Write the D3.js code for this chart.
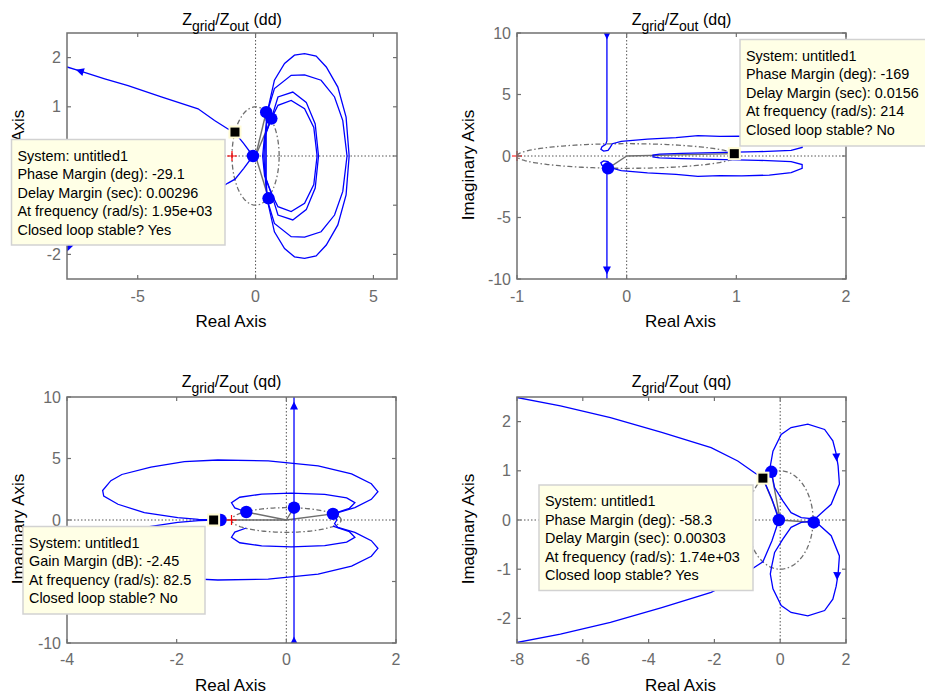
<!DOCTYPE html>
<html>
<head>
<meta charset="utf-8">
<script src="https://cdn.jsdelivr.net/npm/d3@7"></script>
<style>
  body { margin: 0; background: #fff; }
  svg { display: block; }
  text { font-family: "Liberation Sans", Arial, Helvetica, sans-serif; }
</style>
</head>
<body>
<svg id="fig" width="925" height="698"></svg>
<script>
// Nyquist diagrams of Zgrid/Zout, one panel per dq channel.
// Curves hold the positive-frequency half [re, im]; the conjugate half is drawn mirrored.

// ---------- (dd) ----------
const ddXDomain = [-8, 6];
const ddYDomain = [-2.5, 2.5];
const ddXTicks = [-5, 0, 5];
const ddYTicks = [-2, -1, 0, 1, 2];
const ddBranch = [[-8.4,1.86],[-8,1.81],[-7.46,1.73],[-6.4,1.57],[-5.41,1.43],[-4.0,1.2],[-2.44,0.96],[-1.74,0.72],[-1.17,0.55],[-0.87,0.47],[-0.5,0.25],[-0.11,0]];
const ddLoop1 = [[0.45,0],[0.45,0.5],[0.5,0.9],[0.8,1.54],[1.23,1.88],[1.65,2.05],[2.08,2.08],[2.57,2.03],[3.0,1.81],[3.49,1.4],[3.84,0.79],[3.97,0]];
const ddLoop2 = [[0.4,0],[0.42,0.5],[0.5,0.9],[0.8,1.37],[1.51,1.64],[2.08,1.65],[2.78,1.54],[3.35,1.2],[3.7,0.72],[3.88,0]];
const ddLoop3 = [[0.35,0],[0.4,0.4],[0.67,0.76],[0.95,1.2],[1.58,1.3],[2.15,1.09],[2.53,0.65],[2.67,0]];
const ddLoop4 = [[0.3,0],[0.38,0.4],[0.67,0.76],[0.95,1.03],[1.51,1.13],[2.08,0.96],[2.47,0.58],[2.61,0]];
const ddArrows = [[-7.46,1.73,-8,1.81],[-7.88,-1.84,-7.3,-1.75]];
const ddDots = [[0.45,0.89],[0.67,0.76],[-0.11,0],[0.55,-0.86]];
const ddPhaseMargin = -29.1;
const ddDelayMargin = "0.00296";
const ddFrequency = "1.95e+03";
const ddStable = "Yes";

// ---------- (dq) ----------
const dqXDomain = [-1, 2];
const dqYDomain = [-10, 10];
const dqXTicks = [-1, 0, 1, 2];
const dqYTicks = [-10, -5, 0, 5, 10];
const dqPath = [[-0.18,11],[-0.18,1.25],[-0.19,0.95],[-0.225,0.75],[-0.235,0.55],[-0.21,0.4],[-0.17,0.45],[-0.15,0.7],[-0.13,1.0],[-0.05,1.19],[0.19,1.38],[0.45,1.5],[0.65,1.65],[0.85,1.6],[1.05,1.62],[1.3,1.55],[1.5,1.35],[1.6,1.0],[1.6,0.7],[1.5,0.45],[1.2,0.35],[0.8,0.28],[0.5,0.22],[0.3,0.16],[0.24,0.08],[0.24,0]];
const dqArrows = [[-0.18,9.8,-0.18,9.0],[-0.18,-9.3,-0.18,-10]];
const dqDots = [[-0.17,-1.0]];
const dqPhaseMargin = -169;
const dqDelayMargin = "0.0156";
const dqFrequency = "214";
const dqStable = "No";

// ---------- (qd) ----------
const qdXDomain = [-4, 2];
const qdYDomain = [-10, 10];
const qdXTicks = [-4, -2, 0, 2];
const qdYTicks = [-10, -5, 0, 5, 10];
const qdVertical = [[0.14,11],[0.14,0]];
const qdOuter = [[-1.1,0],[-1.3,0.01],[-1.6,0.05],[-1.98,0.2],[-2.59,0.6],[-3.07,1.28],[-3.33,1.95],[-3.35,2.4],[-3.2,3.2],[-3.0,3.7],[-2.47,4.3],[-1.86,4.75],[-1.25,4.88],[-0.33,4.8],[0.58,4.4],[1.19,3.75],[1.55,2.95],[1.67,2.3],[1.55,1.68],[1.25,1.0],[0.94,0.6],[0.88,0.3],[0.92,0]];
const qdInner = [[-0.73,0.65],[-0.94,0.98],[-1.0,1.4],[-0.85,1.85],[-0.45,2.1],[0.09,2.18],[0.7,2.09],[1.1,1.8],[1.25,1.41],[1.15,0.95],[0.85,0.5]];
const qdArrows = [[0.14,9.3,0.14,10],[0.14,-9.8,0.14,-9.0]];
const qdDots = [[-1.2,0],[-0.73,0.65],[0.14,1.0],[0.85,0.5]];
const qdGainMargin = -2.45;
const qdFrequency = "82.5";
const qdStable = "No";

// ---------- (qq) ----------
const qqXDomain = [-8, 2];
const qqYDomain = [-2.5, 2.5];
const qqXTicks = [-8, -6, -4, -2, 0, 2];
const qqYTicks = [-2, -1, 0, 1, 2];
const qqBranch = [[-8.5,2.55],[-8,2.49],[-6.68,2.32],[-5.16,2.08],[-3.6,1.78],[-2.1,1.47],[-1.29,1.2],[-0.78,0.96],[-0.525,0.85],[-0.25,0.42],[-0.04,0]];
const qqLoop = [[1.02,0],[1.55,0.32],[1.8,0.73],[1.76,1.1],[1.7,1.35],[1.6,1.61],[1.35,1.84],[0.84,1.95],[0.33,1.88],[0.03,1.74],[-0.22,1.4],[-0.3,1.1],[-0.27,0.98],[-0.17,0.66],[0.08,0.39],[0.33,0.15],[0.64,0.05],[0.94,0.03],[1.02,0]];
const qqArrows = [[1.71,1.27,1.73,1.0],[1.73,-1.14,1.72,-1.45]];
const qqDots = [[-0.27,0.98],[-0.04,0],[1.02,-0.05]];
const qqPhaseMargin = -58.3;
const qqDelayMargin = "0.00303";
const qqFrequency = "1.74e+03";
const qqStable = "Yes";

// ---------- data tip boxes [x, y, width, height] ----------
const tipBoxes = {
  dd: [11.5, 139.5, 213.5, 105.5],
  dq: [740, 39.5, 190, 106.5],
  qd: [23, 526.5, 182, 87.5],
  qq: [539, 485, 214, 105.5]
};

// ---------- drawing ----------
const svg = d3.select("#fig");
const defs = svg.append("defs");
const BLUE = "#0000ff";
const GREY = "#6e6e6e";

// point on the unit circle where the phase margin is measured
function pmPoint(pm) {
  const a = (-180 + pm) * Math.PI / 180;
  return [Math.cos(a), Math.sin(a)];
}
// point on the negative real axis where the gain margin is measured
function gmPoint(gm) {
  return [-Math.pow(10, -gm / 20), 0];
}
// true when a label anchor sits under one of the data tip boxes
function underTip(px, py) {
  return Object.values(tipBoxes).some(b => px > b[0] && px < b[0] + b[2] && py > b[1] && py < b[1] + b[3]);
}

function panel(o) {
  const x = d3.scaleLinear().domain(o.xDomain).range([o.left, o.left + o.width]);
  const y = d3.scaleLinear().domain(o.yDomain).range([o.top + o.height, o.top]);
  const line = d3.line().x(d => x(d[0])).y(d => y(d[1]));
  const clipId = "clip-" + o.key;
  defs.append("clipPath").attr("id", clipId)
    .append("rect").attr("x", o.left).attr("y", o.top).attr("width", o.width).attr("height", o.height);

  const g = svg.append("g");
  const plot = g.append("g").attr("clip-path", `url(#${clipId})`);

  // real / imaginary axis lines
  plot.append("line").attr("x1", x(0)).attr("x2", x(0)).attr("y1", o.top).attr("y2", o.top + o.height)
    .attr("stroke", "#555").attr("stroke-width", 1).attr("stroke-dasharray", "1.5,2");
  plot.append("line").attr("x1", o.left).attr("x2", o.left + o.width).attr("y1", y(0)).attr("y2", y(0))
    .attr("stroke", "#555").attr("stroke-width", 1).attr("stroke-dasharray", "1.5,2");

  // unit circle
  const circle = d3.range(0, 361, 2).map(a => [Math.cos(a * Math.PI / 180), Math.sin(a * Math.PI / 180)]);
  plot.append("path").attr("d", line(circle)).attr("fill", "none")
    .attr("stroke", GREY).attr("stroke-width", 1.3).attr("stroke-dasharray", "5,2.5,1.5,2.5");

  // margin lines from the origin
  const marks = o.lineToTip ? o.dots.concat([o.tip]) : o.dots;
  marks.forEach(p => {
    plot.append("line").attr("x1", x(0)).attr("y1", y(0)).attr("x2", x(p[0])).attr("y2", y(p[1]))
      .attr("stroke", GREY).attr("stroke-width", 1.4);
  });

  // response curves and their conjugates
  o.curves.forEach(c => {
    plot.append("path").attr("d", line(c)).attr("fill", "none").attr("stroke", BLUE).attr("stroke-width", 1.3);
    plot.append("path").attr("d", line(c.map(p => [p[0], -p[1]]))).attr("fill", "none")
      .attr("stroke", BLUE).attr("stroke-width", 1.3);
  });

  // direction arrows
  o.arrows.forEach(a => {
    const px = x(a[0]), py = y(a[1]);
    let ux = x(a[2]) - px, uy = y(a[3]) - py;
    const n = Math.hypot(ux, uy); ux /= n; uy /= n;
    const tip = [px + ux * 4, py + uy * 4];
    const b = [px - ux * 4, py - uy * 4];
    const pts = [tip, [b[0] - uy * 4, b[1] + ux * 4], [b[0] + uy * 4, b[1] - ux * 4]];
    plot.append("path").attr("d", "M" + pts.map(p => p.join(",")).join("L") + "Z").attr("fill", BLUE);
  });

  // margin dots
  o.dots.forEach(p => {
    plot.append("circle").attr("cx", x(p[0])).attr("cy", y(p[1])).attr("r", 6.2).attr("fill", BLUE);
  });

  // critical point -1
  const cx = x(-1), cy = y(0);
  g.append("path").attr("d", `M${cx - 5},${cy}H${cx + 5}M${cx},${cy - 5}V${cy + 5}`)
    .attr("stroke", "#ff0000").attr("stroke-width", 1.2);

  // data tip marker
  g.append("rect").attr("x", x(o.tip[0]) - 5.5).attr("y", y(o.tip[1]) - 5.5).attr("width", 11).attr("height", 11)
    .attr("fill", "#000").attr("stroke", "#fffbd5").attr("stroke-width", 2);

  // axes box and ticks
  g.append("rect").attr("x", o.left).attr("y", o.top).attr("width", o.width).attr("height", o.height)
    .attr("fill", "none").attr("stroke", "#707070").attr("stroke-width", 1.5);
  const tickAttr = s => s.attr("stroke", "#707070").attr("stroke-width", 1.2);
  o.xTicks.forEach(t => {
    tickAttr(g.append("line").attr("x1", x(t)).attr("x2", x(t)).attr("y1", o.top + o.height).attr("y2", o.top + o.height - 4));
    tickAttr(g.append("line").attr("x1", x(t)).attr("x2", x(t)).attr("y1", o.top).attr("y2", o.top + 4));
    const lx = x(t), ly = o.top + o.height + o.xLabelGap;
    if (!underTip(lx, ly - 5))
      g.append("text").attr("x", lx).attr("y", ly).attr("text-anchor", "middle")
        .attr("font-size", 16).attr("fill", "#6b6b6b").text(t);
  });
  o.yTicks.forEach(t => {
    tickAttr(g.append("line").attr("x1", o.left).attr("x2", o.left + 4).attr("y1", y(t)).attr("y2", y(t)));
    tickAttr(g.append("line").attr("x1", o.left + o.width).attr("x2", o.left + o.width - 4).attr("y1", y(t)).attr("y2", y(t)));
    const lx = o.left - 6, ly = y(t) + 5.5;
    if (!underTip(lx - 6, ly - 5))
      g.append("text").attr("x", lx).attr("y", ly).attr("text-anchor", "end")
        .attr("font-size", 16).attr("fill", "#6b6b6b").text(t);
  });

  // axis labels
  const mid = o.left + o.width / 2;
  g.append("text").attr("x", mid - 1).attr("y", o.top + o.height + 48).attr("text-anchor", "middle")
    .attr("font-size", 17).attr("fill", "#000").text("Real Axis");
  const yl = g.append("text").attr("transform", `translate(${o.left - 43},${o.top + o.height / 2 + 9}) rotate(-90)`)
    .attr("text-anchor", "middle").attr("font-size", 17).attr("fill", "#000").text("Imaginary Axis");
  if (o.yLabelClip) {
    // only the part above the data tip box stays visible
    const yc = "ylab-" + o.key;
    defs.append("clipPath").attr("id", yc).append("rect")
      .attr("x", 0).attr("y", 0).attr("width", o.left).attr("height", o.yLabelClip);
    yl.attr("clip-path", null);
    g.append("g").attr("clip-path", `url(#${yc})`).node().appendChild(yl.node());
  }

  // title
  const title = g.append("text").attr("x", mid).attr("y", o.titleY).attr("text-anchor", "middle")
    .attr("font-size", 16).attr("fill", "#000");
  title.append("tspan").text("Z");
  title.append("tspan").attr("font-size", 14).attr("dy", 6).text("grid");
  title.append("tspan").attr("dy", -6).text("/Z");
  title.append("tspan").attr("font-size", 14).attr("dy", 6).text("out");
  title.append("tspan").attr("dy", -6).text(" (" + o.key + ")");

  return g;
}

function tooltip(box, lines) {
  const g = svg.append("g");
  g.append("rect").attr("x", box[0]).attr("y", box[1]).attr("width", box[2]).attr("height", box[3])
    .attr("fill", "#ffffe6").attr("stroke", "#d2d2d2").attr("stroke-width", 1.5);
  lines.forEach((s, i) => {
    g.append("text").attr("x", box[0] + 6).attr("y", box[1] + 21 + i * 18.6)
      .attr("font-size", 14.4).attr("fill", "#000").text(s);
  });
}

panel({ key: "dd", left: 67, top: 33, width: 330, height: 246, xLabelGap: 23, titleY: 25,
  xDomain: ddXDomain, yDomain: ddYDomain, xTicks: ddXTicks, yTicks: ddYTicks,
  curves: [ddBranch, ddLoop1, ddLoop2, ddLoop3, ddLoop4], arrows: ddArrows, dots: ddDots,
  tip: pmPoint(ddPhaseMargin), lineToTip: false, yLabelClip: tipBoxes.dd[1] });
panel({ key: "dq", left: 517, top: 33, width: 329, height: 246, xLabelGap: 23, titleY: 25,
  xDomain: dqXDomain, yDomain: dqYDomain, xTicks: dqXTicks, yTicks: dqYTicks,
  curves: [dqPath], arrows: dqArrows, dots: dqDots,
  tip: pmPoint(dqPhaseMargin), lineToTip: true });
panel({ key: "qd", left: 67, top: 397, width: 329, height: 246, xLabelGap: 22, titleY: 387,
  xDomain: qdXDomain, yDomain: qdYDomain, xTicks: qdXTicks, yTicks: qdYTicks,
  curves: [qdVertical, qdOuter, qdInner], arrows: qdArrows, dots: qdDots,
  tip: gmPoint(qdGainMargin), lineToTip: false });
panel({ key: "qq", left: 517, top: 397, width: 329, height: 246, xLabelGap: 22, titleY: 387,
  xDomain: qqXDomain, yDomain: qqYDomain, xTicks: qqXTicks, yTicks: qqYTicks,
  curves: [qqBranch, qqLoop], arrows: qqArrows, dots: qqDots,
  tip: pmPoint(qqPhaseMargin), lineToTip: true });

// data tips
tooltip(tipBoxes.dd, [
  "System: untitled1",
  "Phase Margin (deg): " + ddPhaseMargin,
  "Delay Margin (sec): " + ddDelayMargin,
  "At frequency (rad/s): " + ddFrequency,
  "Closed loop stable? " + ddStable]);
tooltip(tipBoxes.dq, [
  "System: untitled1",
  "Phase Margin (deg): " + dqPhaseMargin,
  "Delay Margin (sec): " + dqDelayMargin,
  "At frequency (rad/s): " + dqFrequency,
  "Closed loop stable? " + dqStable]);
tooltip(tipBoxes.qd, [
  "System: untitled1",
  "Gain Margin (dB): " + qdGainMargin,
  "At frequency (rad/s): " + qdFrequency,
  "Closed loop stable? " + qdStable]);
tooltip(tipBoxes.qq, [
  "System: untitled1",
  "Phase Margin (deg): " + qqPhaseMargin,
  "Delay Margin (sec): " + qqDelayMargin,
  "At frequency (rad/s): " + qqFrequency,
  "Closed loop stable? " + qqStable]);
</script>
</body>
</html>
